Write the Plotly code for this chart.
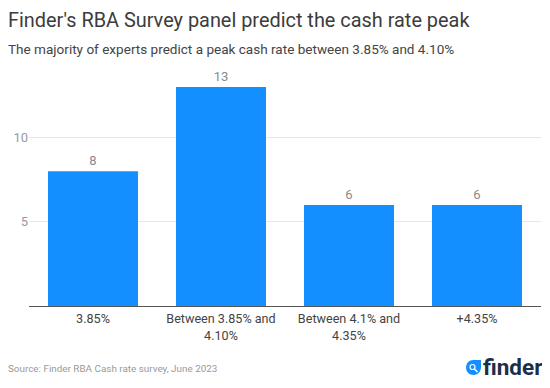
import plotly.graph_objects as go

categories = ["3.85%", "Between 3.85% and<br>4.10%", "Between 4.1% and<br>4.35%", "+4.35%"]
values = [8, 13, 6, 6]
tick_vals = [5, 10]
title = "Finder's RBA Survey panel predict the cash rate peak"
subtitle = "The majority of experts predict a peak cash rate between 3.85% and 4.10%"
source = "Source: Finder RBA Cash rate survey, June 2023"

OFF = 8  # page body margin
W, H = 550 - OFF, 388 - OFF
L, R, T, B = 21, 9, 79, 82
def px(x): return (x - OFF - L) / (W - L - R)
def py(y): return (H - B - (y - OFF)) / (H - T - B)

fig = go.Figure(go.Bar(x=categories, y=values, text=values, textposition="outside", cliponaxis=False,
    marker_color="#148FFF", marker_line_width=0, width=0.703, textfont=dict(color="#8a8a8a", size=13)))
fig.update_layout(width=W, height=H, margin=dict(l=L, r=R, t=T, b=B, pad=0), plot_bgcolor="white", paper_bgcolor="white",
    font=dict(family="Roboto", color="#333"), showlegend=False, bargap=0.297)
fig.update_xaxes(automargin=False, showline=True, linecolor="#555", linewidth=1, tickfont=dict(size=12.6, color="#444"),
    ticks="", showgrid=False, ticklabelstandoff=1)
fig.update_yaxes(automargin=False, range=[0, 13], tickvals=tick_vals, gridcolor="#e8e8e8", zeroline=False, showline=False,
    tickfont=dict(size=13, color="#9a9a9a"), ticks="")

def note(text, x, y, size, color, anchor="left"):
    fig.add_annotation(text=text, x=px(x), y=py(y), xref="paper", yref="paper", xanchor=anchor, yanchor="middle",
        showarrow=False, font=dict(size=size, color=color), borderpad=0, borderwidth=0)

note(title, 8, 21, 19.9, "#3c3c3c")
note(subtitle, 8, 49, 13.55, "#444444")
note(source, 8, 368, 9.9, "#999999")
note("<b>finder</b>", 542, 367, 22.5, "#1c2e4a", "right")

# logo: blue drop with white magnifier
drop = (f"M {px(481):.5f},{py(360):.5f} L {px(473.5):.5f},{py(360):.5f} "
        f"C {px(469):.5f},{py(360):.5f} {px(466):.5f},{py(363.5):.5f} {px(466):.5f},{py(367.5):.5f} "
        f"C {px(466):.5f},{py(371.5):.5f} {px(469):.5f},{py(375):.5f} {px(473.5):.5f},{py(375):.5f} "
        f"C {px(477.5):.5f},{py(375):.5f} {px(481):.5f},{py(371.5):.5f} {px(481):.5f},{py(367.5):.5f} Z")
fig.add_shape(type="path", path=drop, xref="paper", yref="paper", fillcolor="#148FFF", line_width=0)
fig.add_shape(type="circle", x0=px(470), x1=px(475), y0=py(369.5), y1=py(364.5), xref="paper", yref="paper",
    fillcolor="rgba(0,0,0,0)", line=dict(color="white", width=1.2))
fig.add_shape(type="line", x0=px(474.5), x1=px(477.5), y0=py(369), y1=py(372), xref="paper", yref="paper",
    line=dict(color="white", width=1.5))
fig.write_html("out.html")
